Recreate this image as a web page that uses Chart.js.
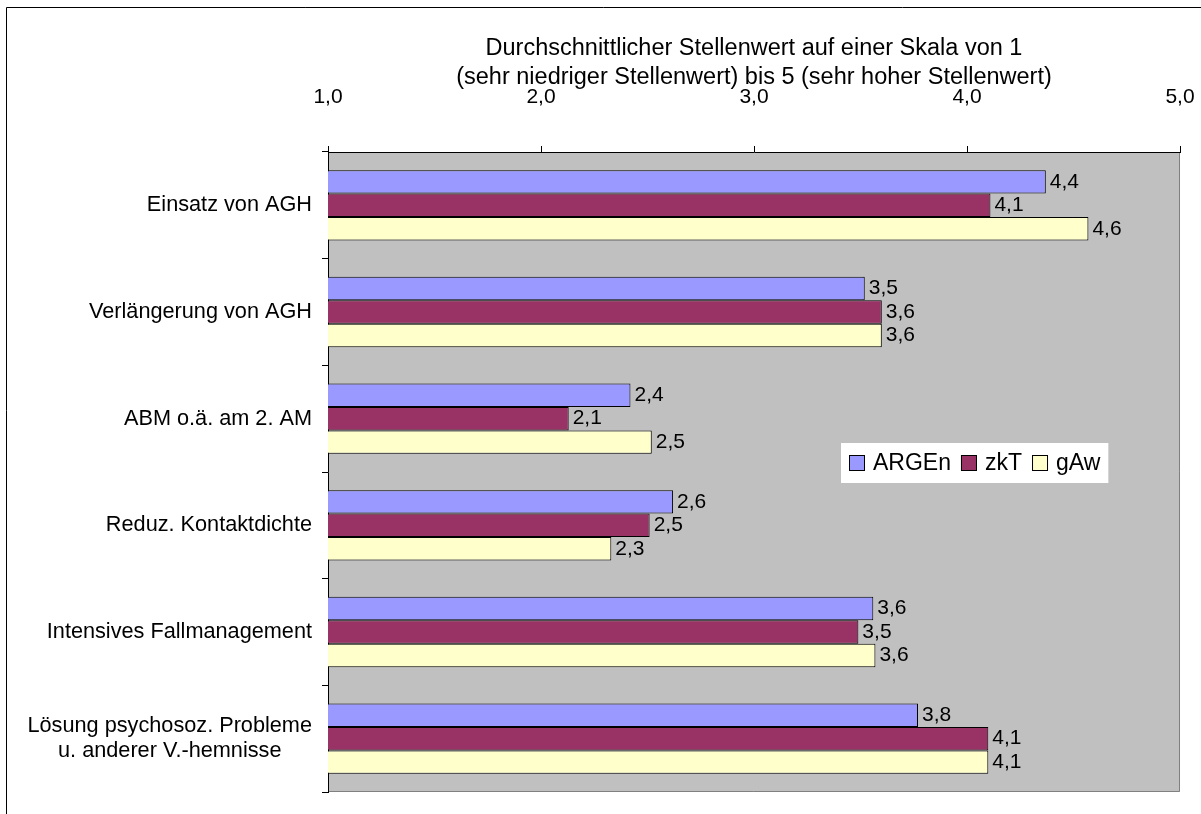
<!DOCTYPE html>
<html><head><meta charset="utf-8">
<script src="https://cdn.jsdelivr.net/npm/chart.js@4"></script>
<style>html,body{margin:0;padding:0;background:#fff}canvas{display:block}</style>
</head><body>
<canvas id="c" width="1201" height="814"></canvas>
<script>
const categories = [
  'Einsatz von AGH',
  'Verlängerung von AGH',
  'ABM o.ä. am 2. AM',
  'Reduz. Kontaktdichte',
  'Intensives Fallmanagement',
  ['Lösung psychosoz. Probleme', 'u. anderer V.-hemnisse']
];
const seriesNames = ['ARGEn', 'zkT', 'gAw'];
const seriesColors = ['#9999FF', '#993366', '#FFFFCC'];
const argenValues = [4.37, 3.52, 2.42, 2.62, 3.56, 3.77];
const zktValues   = [4.11, 3.60, 2.13, 2.51, 3.49, 4.10];
const gawValues   = [4.57, 3.60, 2.52, 2.33, 3.57, 4.10];
const axisTicks = [1, 2, 3, 4, 5];
const axisTitle = ['Durchschnittlicher Stellenwert auf einer Skala von 1',
                   '(sehr niedriger Stellenwert) bis 5 (sehr hoher Stellenwert)'];

const FONT = "'Liberation Sans', Arial, sans-serif";
Chart.defaults.font.family = FONT;
Chart.defaults.color = '#000';
const fmt = v => Number(v).toFixed(1).replace('.', ',');

const framePlugin = {
  id: 'frame',
  beforeDraw(chart) {
    const {ctx, chartArea: a, width, height} = chart;
    ctx.save();
    ctx.fillStyle = '#fff'; ctx.fillRect(0, 0, width, height);
    ctx.strokeStyle = '#000'; ctx.lineWidth = 1;
    ctx.beginPath(); ctx.moveTo(6.5, height); ctx.lineTo(6.5, 7.5); ctx.lineTo(width, 7.5); ctx.stroke();
    ctx.fillStyle = '#C0C0C0';
    ctx.fillRect(a.left, a.top, a.right - a.left, a.bottom - a.top);
    ctx.strokeStyle = '#808080';
    ctx.beginPath();
    ctx.moveTo(a.right - 0.5, a.top); ctx.lineTo(a.right - 0.5, a.bottom - 0.5); ctx.lineTo(a.left, a.bottom - 0.5);
    ctx.stroke();
    ctx.restore();
  }
};

const labelsPlugin = {
  id: 'labels',
  afterDraw(chart) {
    const ctx = chart.ctx;
    ctx.save();
    // value labels
    ctx.font = `21px ${FONT}`;
    ctx.fillStyle = '#000';
    ctx.textBaseline = 'middle';
    ctx.textAlign = 'left';
    chart.data.datasets.forEach((ds, di) => {
      const meta = chart.getDatasetMeta(di);
      meta.data.forEach((el, i) => {
        ctx.fillText(fmt(ds.data[i]), el.x + 4, el.y);
      });
    });
    // category labels
    ctx.font = `21.7px ${FONT}`;
    const ys = chart.scales.y;
    const right = chart.chartArea.left - 16;
    categories.forEach((lab, i) => {
      const cy = ys.getPixelForValue(i);
      const lines = Array.isArray(lab) ? lab : [lab];
      const lh = 25;
      const w = Math.max(...lines.map(l => ctx.measureText(l).width));
      const cx = right - w / 2;
      ctx.textAlign = 'center';
      lines.forEach((l, j) => ctx.fillText(l, cx, cy + (j - (lines.length - 1) / 2) * lh));
    });
    // legend
    const a = chart.chartArea;
    ctx.font = `23px ${FONT}`;
    const bx = a.left + 513, by = 443, bh = 40;
    let x = bx + 8;
    const items = chart.data.datasets.map(ds => ({text: ds.label, color: ds.backgroundColor, w: ctx.measureText(ds.label).width}));
    let total = 8;
    items.forEach((it, k) => { total += 16 + 8 + it.w + (k < items.length - 1 ? 10 : 8); });
    ctx.fillStyle = '#fff';
    ctx.fillRect(bx, by, total, bh);
    const cy = by + bh / 2;
    items.forEach((it, k) => {
      ctx.fillStyle = it.color;
      ctx.fillRect(x, cy - 8, 16, 16);
      ctx.strokeStyle = '#000'; ctx.lineWidth = 1;
      ctx.strokeRect(x + 0.5, cy - 7.5, 15, 15);
      x += 24;
      ctx.fillStyle = '#000';
      ctx.textAlign = 'left';
      ctx.fillText(it.text, x, cy + 1);
      x += it.w + 10;
    });
    ctx.restore();
  }
};

const mk = (i, data) => ({
  label: seriesNames[i], data,
  backgroundColor: seriesColors[i], borderColor: '#000', borderWidth: 1, borderSkipped: false
});

new Chart(document.getElementById('c'), {
  type: 'bar',
  data: { labels: categories, datasets: [mk(0, argenValues), mk(1, zktValues), mk(2, gawValues)] },
  options: {
    indexAxis: 'y',
    responsive: false,
    animation: false,
    layout: { padding: { top: 8, left: 8, right: 21, bottom: 22 } },
    datasets: { bar: { categoryPercentage: 0.66, barPercentage: 1 } },
    plugins: { legend: { display: false }, tooltip: { enabled: false } },
    scales: {
      x: {
        position: 'top', min: 1, max: 5,
        afterBuildTicks: s => { s.ticks = axisTicks.map(v => ({ value: v })); },
        ticks: { callback: v => fmt(v), font: { size: 21 }, padding: 36, color: '#000', maxRotation: 0 },
        grid: { drawOnChartArea: false, drawTicks: true, tickLength: 6, color: '#000' },
        border: { display: true, color: '#000', width: 1 },
        title: { display: true, text: axisTitle, font: { size: 23.5, lineHeight: 1.24 }, padding: { top: 26, bottom: 0 }, color: '#000' },
        afterFit: s => { s.height = 144; s.paddingLeft = 0; s.paddingRight = 0; }
      },
      y: {
        ticks: { display: false },
        grid: { drawOnChartArea: false, drawTicks: true, tickLength: 6, color: '#000', offset: true },
        border: { display: true, color: '#000' },
        afterFit: s => { s.width = 320; s.paddingTop = 0; s.paddingBottom = 0; }
      }
    }
  },
  plugins: [framePlugin, labelsPlugin]
});
</script>
</body></html>
